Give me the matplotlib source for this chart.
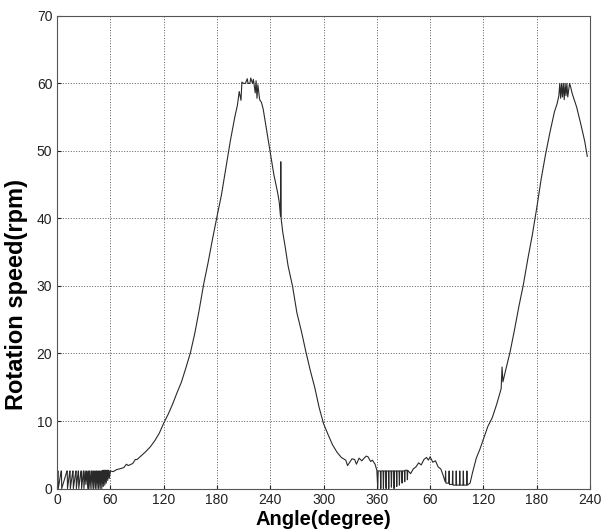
import matplotlib.pyplot as plt

plt.rcParams['font.family'] = ['Liberation Sans', 'DejaVu Sans']

# low speed spikes near start (angle, speed)
start_angle = [0, 0.6, 0.9, 1.2, 4.5, 4.8, 5.1, 11.0, 11.3, 11.6, 14.2, 14.5, 14.8,
               17.6, 17.9, 18.2, 21.0, 21.3, 21.6, 23.7, 24.0, 24.3, 26.8, 27.2, 27.5,
               29.5, 29.8, 30.1, 31.5, 32.3, 33.0, 34.6, 34.9, 35.2, 36.4, 36.7, 37.0,
               38.5, 38.8, 39.1, 40.4, 40.7, 41.0, 42.4, 42.7, 43.0, 44.2, 44.5, 44.8,
               46.0, 46.3, 46.6, 47.8, 48.1, 48.4, 49.6, 49.9, 50.2, 51.3, 51.6, 51.9,
               53.0, 53.3, 53.6, 54.6, 54.9, 55.2, 56.3, 56.6, 56.9, 58.0, 58.3, 58.6]
start_speed = [0, 2.6, 2.6, 0, 2.6, 2.6, 0, 2.6, 2.6, 0, 2.6, 2.6, 0,
               2.6, 2.6, 0, 2.6, 2.6, 0, 2.6, 2.6, 0, 2.6, 2.6, 0,
               2.6, 2.6, 0, 2.6, 0.6, 2.6, 0, 2.6, 0, 2.6, 2.6, 0,
               2.6, 2.6, 0, 2.6, 2.6, 0, 2.6, 2.6, 0, 2.6, 2.6, 0,
               2.6, 2.6, 0, 2.6, 2.6, 0, 2.6, 2.6, 0, 2.7, 2.7, 0.3,
               2.7, 2.7, 0.5, 2.7, 2.7, 0.8, 2.7, 2.7, 1.2, 2.7, 2.7, 1.5]

# first rise, peak and fall (angle, speed)
peak1_angle = [60, 63, 67, 70, 75, 78, 80, 85, 88, 90, 95, 100, 105, 110, 115, 120, 125,
               130, 135, 140, 145, 150, 155, 160, 165, 170, 175, 180, 185, 190, 195,
               200, 203, 205, 207, 208, 210, 212, 214, 215, 217, 218, 220, 221, 223,
               224, 225, 226, 228, 230, 232, 236, 240, 244, 248, 250, 251.5, 251.8,
               252.2, 254, 257, 260, 265, 270, 275, 280, 285, 290, 295, 300, 305, 310,
               315, 320, 325, 327, 330, 332, 335, 337, 340, 343, 345, 348, 350, 353,
               355, 358, 360]
peak1_speed = [2.6, 2.5, 2.8, 2.9, 3.1, 3.6, 3.4, 3.7, 4.3, 4.3, 4.9, 5.5, 6.2, 7.1, 8.2,
               9.7, 11.0, 12.5, 14.2, 15.8, 17.9, 20.1, 23.0, 26.5, 30.3, 33.5, 37.0,
               40.3, 43.5, 47.5, 51.5, 55.0, 56.8, 58.8, 57.5, 60.2, 60.0, 60.0, 60.7,
               60.0, 60.0, 60.8, 60.0, 60.6, 58.6, 60.4, 57.8, 59.8, 57.6, 57.2, 56.2,
               53.0, 49.8, 46.5, 44.0, 42.5, 40.3, 48.4, 40.0, 38.0, 35.6, 33.0, 30.0,
               26.0, 23.3, 20.3, 17.5, 15.0, 12.0, 9.6, 8.0, 6.5, 5.4, 4.6, 4.2, 3.4,
               4.0, 4.4, 4.3, 3.6, 4.5, 4.1, 4.4, 4.8, 4.7, 4.0, 4.2, 3.6, 2.7]

# low region between the two peaks (angle, speed)
mid_angle = [361, 361.5, 364, 364.4, 364.8, 367, 367.4, 367.8, 370, 370.4, 370.8,
             373, 373.4, 373.8, 376, 376.4, 376.8, 379, 379.4, 379.8, 382, 382.4, 382.8,
             385, 385.4, 385.8, 388, 388.4, 388.8, 391, 391.4, 391.8, 394, 394.4, 394.8,
             398, 401, 404, 407, 410, 413, 416, 418, 420, 423, 426, 429, 432, 434,
             437, 437.4, 437.8, 441, 441.4, 441.8, 445, 445.4, 445.8, 449, 449.4, 449.8,
             453, 453.4, 453.8, 457, 457.4, 457.8, 461, 461.4, 461.8, 465]
mid_speed = [0, 2.6, 2.6, 0, 2.6, 2.6, 0, 2.6, 2.6, 0, 2.6,
             2.6, 0, 2.6, 2.6, 0.2, 2.6, 2.6, 0, 2.6, 2.6, 0.3, 2.6,
             2.6, 0.5, 2.6, 2.6, 0.8, 2.6, 2.6, 1.0, 2.7, 2.7, 1.3, 2.7,
             2.2, 2.9, 3.2, 3.8, 3.5, 4.3, 4.6, 4.2, 4.7, 3.9, 4.1, 3.2, 2.9, 2.2,
             1.0, 2.6, 0.8, 0.8, 2.6, 0.6, 0.6, 2.6, 0.5, 0.5, 2.6, 0.5,
             0.5, 2.6, 0.5, 0.5, 2.6, 0.5, 0.5, 2.6, 0.5, 0.8]

# second rise and peak (angle, speed)
peak2_angle = [468, 472, 476, 480, 485, 490, 495, 500, 501, 502, 505, 510, 515, 520,
               525, 530, 535, 540, 545, 550, 555, 560, 563, 565, 566, 567, 568, 569,
               570, 571, 572, 573, 574, 575, 577, 578, 580, 585, 590, 594, 597]
peak2_speed = [2.5, 4.5, 5.8, 7.3, 9.2, 10.5, 12.5, 14.8, 18.0, 15.8, 17.5, 20.2, 23.5,
               27.0, 30.2, 34.0, 37.5, 41.5, 45.8, 49.5, 52.8, 55.8, 57.0, 58.2, 60.0,
               57.8, 60.0, 58.0, 60.0, 57.6, 60.0, 58.2, 60.0, 58.0, 60.0, 59.6, 58.5,
               56.5, 53.8, 51.5, 49.2]

angle = start_angle + peak1_angle + mid_angle + peak2_angle
speed = start_speed + peak1_speed + mid_speed + peak2_speed

x_ticks = [0, 60, 120, 180, 240, 300, 360, 420, 480, 540, 600]
x_tick_labels = ['0', '60', '120', '180', '240', '300', '360', '60', '120', '180', '240']
y_ticks = [0, 10, 20, 30, 40, 50, 60, 70]

fig = plt.figure(figsize=(6.02, 5.31), dpi=100)
ax = fig.add_axes([0.095, 0.080, 0.885, 0.890])
ax.plot(angle, speed, color='#2a2a2a', linewidth=0.8)

ax.set_xlim(0, 600)
ax.set_ylim(0, 70)
ax.set_xticks(x_ticks)
ax.set_xticklabels(x_tick_labels)
ax.set_yticks(y_ticks)
ax.tick_params(direction='in', length=3, labelsize=10, colors='#222222')
ax.grid(True, color='#444444', linestyle=(0, (1.2, 2)), linewidth=0.6)
for s in ax.spines.values():
    s.set_color('#555555')
    s.set_linewidth(0.8)

ax.set_xlabel('Angle(degree)', fontsize=14.5, fontweight='bold')
ax.xaxis.set_label_coords(0.5, -0.045)
ax.set_ylabel('Rotation speed(rpm)', fontsize=17, fontweight='bold')
ax.yaxis.set_label_coords(-0.054, 0.41)

plt.savefig('out.png', dpi=100)
